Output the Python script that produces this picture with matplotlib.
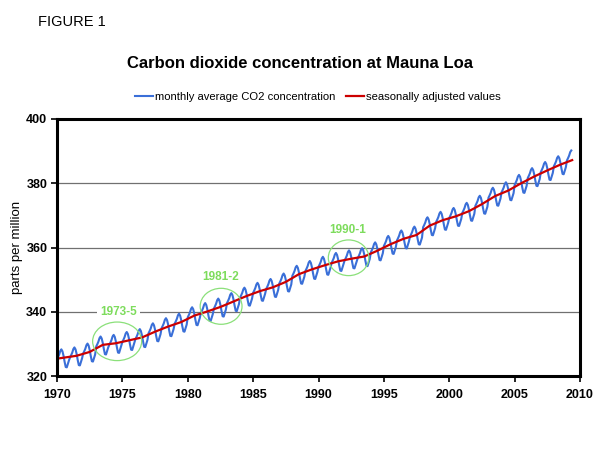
import numpy as np
import matplotlib
matplotlib.use("Agg")
import matplotlib.pyplot as plt
from matplotlib.patches import Ellipse

plt.rcParams['font.family'] = ['Liberation Sans', 'DejaVu Sans']

# monthly average CO2 (ppm), one row per year, Jan..Dec (2009: Jan..May)
monthly = {
    1970: [325.2, 325.9, 326.7, 327.8, 328.3, 327.7, 326.3, 324.4, 322.8, 322.7, 323.8, 324.9],
    1971: [325.8, 326.5, 327.3, 328.4, 328.9, 328.3, 326.9, 325.0, 323.4, 323.3, 324.4, 325.5],
    1972: [327.0, 327.7, 328.5, 329.6, 330.1, 329.5, 328.1, 326.2, 324.6, 324.5, 325.6, 326.7],
    1973: [329.2, 329.9, 330.7, 331.8, 332.3, 331.7, 330.3, 328.4, 326.8, 326.7, 327.8, 328.9],
    1974: [329.7, 330.4, 331.2, 332.3, 332.8, 332.2, 330.8, 328.9, 327.3, 327.2, 328.3, 329.4],
    1975: [330.6, 331.3, 332.1, 333.2, 333.7, 333.1, 331.7, 329.8, 328.2, 328.1, 329.2, 330.3],
    1976: [331.5, 332.2, 333.0, 334.1, 334.6, 334.0, 332.6, 330.7, 329.1, 329.0, 330.1, 331.2],
    1977: [333.3, 334.0, 334.8, 335.9, 336.4, 335.8, 334.4, 332.5, 330.9, 330.8, 331.9, 333.0],
    1978: [334.9, 335.6, 336.4, 337.5, 338.0, 337.4, 336.0, 334.1, 332.5, 332.4, 333.5, 334.6],
    1979: [336.3, 337.0, 337.8, 338.9, 339.4, 338.8, 337.4, 335.5, 333.9, 333.8, 334.9, 336.0],
    1980: [338.3, 339.0, 339.8, 340.9, 341.4, 340.8, 339.4, 337.5, 335.9, 335.8, 336.9, 338.0],
    1981: [339.6, 340.3, 341.1, 342.2, 342.7, 342.1, 340.7, 338.8, 337.2, 337.1, 338.2, 339.3],
    1982: [341.0, 341.7, 342.5, 343.6, 344.1, 343.5, 342.1, 340.2, 338.6, 338.5, 339.6, 340.7],
    1983: [342.7, 343.4, 344.2, 345.3, 345.8, 345.2, 343.8, 341.9, 340.3, 340.2, 341.3, 342.4],
    1984: [344.4, 345.1, 345.9, 347.0, 347.5, 346.9, 345.5, 343.6, 342.0, 341.9, 343.0, 344.1],
    1985: [345.9, 346.6, 347.4, 348.5, 349.0, 348.4, 347.0, 345.1, 343.5, 343.4, 344.5, 345.6],
    1986: [347.1, 347.8, 348.6, 349.7, 350.2, 349.6, 348.2, 346.3, 344.7, 344.6, 345.7, 346.8],
    1987: [348.8, 349.5, 350.3, 351.4, 351.9, 351.3, 349.9, 348.0, 346.4, 346.3, 347.4, 348.5],
    1988: [351.2, 351.9, 352.7, 353.8, 354.3, 353.7, 352.3, 350.4, 348.8, 348.7, 349.8, 350.9],
    1989: [352.7, 353.4, 354.2, 355.3, 355.8, 355.2, 353.8, 351.9, 350.3, 350.2, 351.3, 352.4],
    1990: [354.0, 354.7, 355.5, 356.6, 357.1, 356.5, 355.1, 353.2, 351.6, 351.5, 352.6, 353.7],
    1991: [355.2, 355.9, 356.7, 357.8, 358.3, 357.7, 356.3, 354.4, 352.8, 352.7, 353.8, 354.9],
    1992: [356.0, 356.7, 357.5, 358.6, 359.1, 358.5, 357.1, 355.2, 353.6, 353.5, 354.6, 355.7],
    1993: [356.7, 357.4, 358.2, 359.3, 359.8, 359.2, 357.8, 355.9, 354.3, 354.2, 355.3, 356.4],
    1994: [358.5, 359.2, 360.0, 361.1, 361.6, 361.0, 359.6, 357.7, 356.1, 356.0, 357.1, 358.2],
    1995: [360.5, 361.2, 362.0, 363.1, 363.6, 363.0, 361.6, 359.7, 358.1, 358.0, 359.1, 360.2],
    1996: [362.2, 362.9, 363.7, 364.8, 365.3, 364.7, 363.3, 361.4, 359.8, 359.7, 360.8, 361.9],
    1997: [363.4, 364.1, 364.9, 366.0, 366.5, 365.9, 364.5, 362.6, 361.0, 360.9, 362.0, 363.1],
    1998: [366.3, 367.0, 367.8, 368.9, 369.4, 368.8, 367.4, 365.5, 363.9, 363.8, 364.9, 366.0],
    1999: [368.0, 368.7, 369.5, 370.6, 371.1, 370.5, 369.1, 367.2, 365.6, 365.5, 366.6, 367.7],
    2000: [369.2, 369.9, 370.7, 371.8, 372.3, 371.7, 370.3, 368.4, 366.8, 366.7, 367.8, 368.9],
    2001: [370.8, 371.5, 372.3, 373.4, 373.9, 373.3, 371.9, 370.0, 368.4, 368.3, 369.4, 370.5],
    2002: [373.0, 373.7, 374.5, 375.6, 376.1, 375.5, 374.1, 372.2, 370.6, 370.5, 371.6, 372.7],
    2003: [375.5, 376.2, 377.0, 378.1, 378.6, 378.0, 376.6, 374.7, 373.1, 373.0, 374.1, 375.2],
    2004: [377.2, 377.9, 378.7, 379.8, 380.3, 379.7, 378.3, 376.4, 374.8, 374.7, 375.8, 376.9],
    2005: [379.5, 380.2, 381.0, 382.1, 382.6, 382.0, 380.6, 378.7, 377.1, 377.0, 378.1, 379.2],
    2006: [381.6, 382.3, 383.1, 384.2, 384.7, 384.1, 382.7, 380.8, 379.2, 379.1, 380.2, 381.3],
    2007: [383.5, 384.2, 385.0, 386.1, 386.6, 386.0, 384.6, 382.7, 381.1, 381.0, 382.1, 383.2],
    2008: [385.3, 386.0, 386.8, 387.9, 388.4, 387.8, 386.4, 384.5, 382.9, 382.8, 383.9, 385.0],
    2009: [387.1, 387.8, 388.6, 389.7, 390.2],
}

# seasonally adjusted values (ppm), dates in decimal years
adj_dates = [1970.0, 1970.5, 1971.5, 1972.5, 1973.5, 1974.5, 1975.5, 1976.5, 1977.5,
             1978.5, 1979.5, 1980.5, 1981.5, 1982.5, 1983.5, 1984.5, 1985.5, 1986.5,
             1987.5, 1988.5, 1989.5, 1990.5, 1991.5, 1992.5, 1993.5, 1994.5, 1995.5,
             1996.5, 1997.5, 1998.5, 1999.5, 2000.5, 2001.5, 2002.5, 2003.5, 2004.5,
             2005.5, 2006.5, 2007.5, 2008.5, 2009.4]
adj_values = [325.4, 325.7, 326.3, 327.5, 329.7, 330.2, 331.1, 332.0, 333.8,
              335.4, 336.8, 338.8, 340.1, 341.5, 343.2, 344.9, 346.4, 347.6,
              349.3, 351.7, 353.2, 354.5, 355.7, 356.5, 357.2, 359.0, 361.0,
              362.7, 363.9, 366.8, 368.5, 369.7, 371.3, 373.5, 376.0, 377.7,
              380.0, 382.1, 384.0, 385.8, 387.2]

# highlighted periods: label, centre, width (years), height (ppm), label position
periods = ["1973-5", "1981-2", "1990-1"]
period_centres = [(1974.6, 330.8), (1982.55, 341.7), (1992.3, 356.8)]
period_sizes = [(3.75, 12.0), (3.2, 11.2), (3.1, 11.1)]
period_labels_at = [(1974.7, 340.0), (1982.5, 350.9), (1992.25, 365.4)]


def build_monthly():
    dates, values = [], []
    for year, vals in monthly.items():
        for i, v in enumerate(vals):
            dates.append(year + i / 12.0)
            values.append(v)
    return dates, values


def draw():
    fig = plt.figure(figsize=(6, 4.5), dpi=100)
    ax = fig.add_axes([0.095, 0.1644, 0.8717, 0.5712])

    dates, values = build_monthly()
    blue, = ax.plot(dates, values, color='#3a6fd8', lw=1.5,
                    label='monthly average CO2 concentration')
    red, = ax.plot(adj_dates, adj_values, color='#cc0000', lw=1.6,
                   label='seasonally adjusted values')

    ax.set_xlim(1970, 2010)
    ax.set_ylim(320, 400)
    ax.set_xticks(range(1970, 2011, 5))
    ax.set_yticks(range(320, 401, 20))
    for y in [340, 360, 380]:
        ax.axhline(y, color='#707070', lw=0.9, zorder=0)
    for sp in ax.spines.values():
        sp.set_linewidth(2.2)
        sp.set_color('black')
    ax.tick_params(direction='out', length=4, width=1.2, labelsize=9, pad=3)
    ax.tick_params(axis='x', pad=5)
    for lab in ax.get_xticklabels() + ax.get_yticklabels():
        lab.set_fontweight('bold')
    ax.set_ylabel('parts per million', fontsize=9.5, labelpad=2)

    for name, c, s, lp in zip(periods, period_centres, period_sizes, period_labels_at):
        ax.add_patch(Ellipse(c, s[0], s[1], fill=False, ec='#8be07a', lw=0.9, zorder=3))
        ax.text(lp[0], lp[1], name, color='#7ddc5c', fontsize=8.5, fontweight='bold',
                ha='center', va='center', zorder=4,
                bbox=dict(facecolor='white', edgecolor='none', pad=2))

    fig.text(0.063, 0.951, 'FIGURE 1', fontsize=10.5, ha='left', va='center')
    fig.text(0.5, 0.858, 'Carbon dioxide concentration at Mauna Loa', fontsize=12,
             fontweight='bold', ha='center', va='center')
    fig.legend(handles=[blue, red], loc='center', bbox_to_anchor=(0.53, 0.784),
               ncol=2, frameon=False, fontsize=8.1, handlelength=1.6,
               handletextpad=0.2, columnspacing=0.9)

    fig.savefig('out.png', dpi=100)
    plt.close(fig)


if __name__ == '__main__':
    draw()
